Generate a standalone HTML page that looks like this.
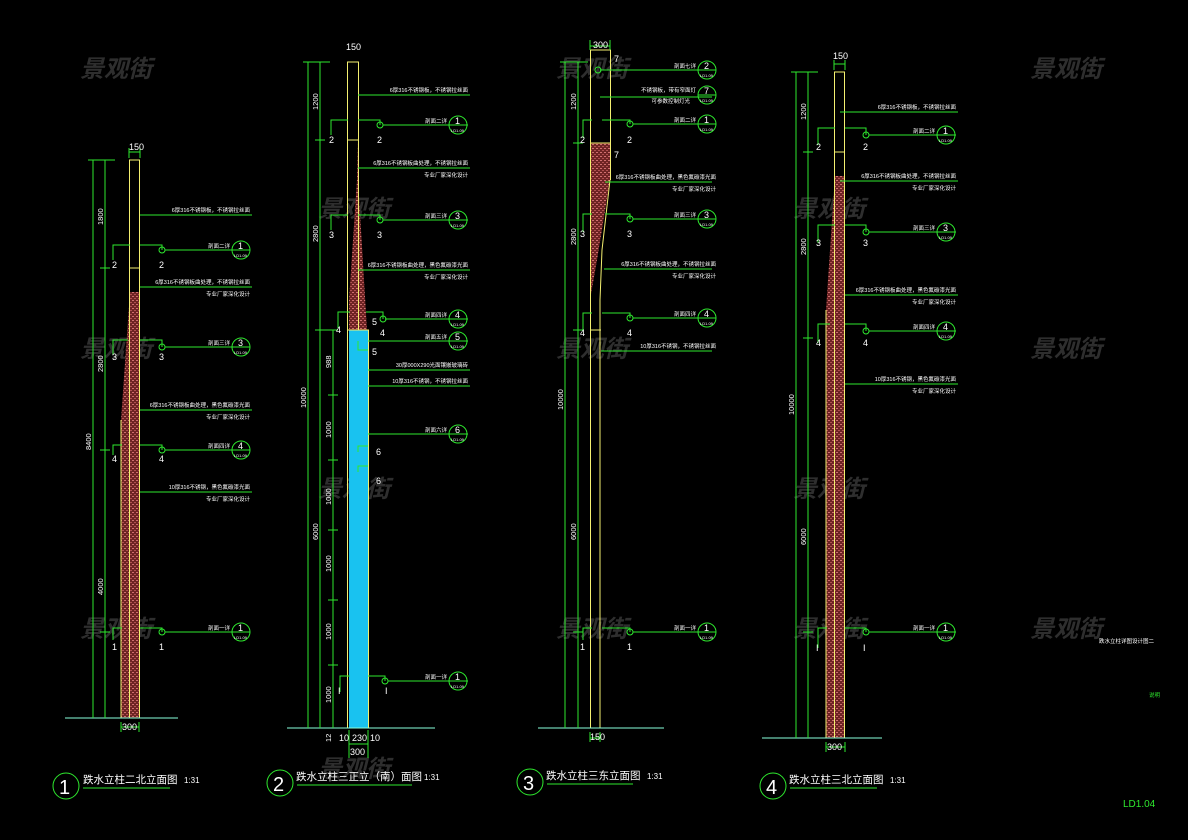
<!DOCTYPE html>
<html><head><meta charset="utf-8"><style>
html,body{margin:0;padding:0;background:#000;}
svg{display:block}
.g{stroke:#2ee82e;fill:none;stroke-width:1}
.y{stroke:#f4f070;fill:none;stroke-width:1}
.t{fill:#fff;font-family:"Liberation Sans","Noto Sans CJK SC",sans-serif;font-size:5.5px}
.n{fill:#fff;font-family:"Liberation Sans",sans-serif;font-size:9px}
.c{fill:#fff;font-family:"Liberation Sans",sans-serif;font-size:12px}
.s{fill:#fff;font-family:"Liberation Sans",sans-serif;font-size:4px}
.w{fill:#555;font-family:"Liberation Sans","Noto Sans CJK SC",sans-serif;font-size:24px;font-style:italic;font-weight:bold;opacity:.55}
.ti{fill:#fff;font-family:"Liberation Sans","Noto Sans CJK SC",sans-serif;font-size:10.5px}
.d{fill:#fff;font-family:"Liberation Sans",sans-serif;font-size:7.5px}
</style></head><body>
<svg width="1188" height="840" viewBox="0 0 1188 840" xmlns="http://www.w3.org/2000/svg">
<defs>
<pattern id="h" width="4" height="4" patternUnits="userSpaceOnUse">
<rect width="4" height="4" fill="#6e2424"/>
<rect x="0" y="0" width="2" height="1" fill="#d07070"/>
<rect x="2" y="2" width="2" height="1" fill="#b05050"/>
</pattern>
<g id="co"><circle r="9" class="g"/><line x1="-9" y1="0" x2="9" y2="0" class="g"/></g>
</defs>
<rect width="1188" height="840" fill="#000"/>

<g class="w">
<text x="80" y="77">景观街</text><text x="318" y="217">景观街</text><text x="556" y="77">景观街</text><text x="1030" y="77">景观街</text>
<text x="80" y="357">景观街</text><text x="556" y="357">景观街</text><text x="793" y="217">景观街</text><text x="1030" y="357">景观街</text>
<text x="318" y="497">景观街</text><text x="793" y="497">景观街</text>
<text x="80" y="637">景观街</text><text x="556" y="637">景观街</text><text x="1030" y="637">景观街</text><text x="318" y="777">景观街</text><text x="793" y="637">景观街</text>
</g>

<!-- COLUMN 1 -->
<polygon points="130,292 139,292 139,718 121,718 121,420" fill="url(#h)"/>
<rect x="129.5" y="160" width="10" height="558" class="y"/>
<line x1="129" y1="268" x2="140" y2="268" class="y"/>
<line x1="121" y1="420" x2="121" y2="718" class="y"/>
<line x1="65" y1="718" x2="178" y2="718" stroke="#8fd" stroke-width="1"/>
<g class="g">
<line x1="93" y1="160" x2="93" y2="718"/><line x1="105" y1="160" x2="105" y2="718"/>
<line x1="88" y1="160" x2="115" y2="160"/>
<line x1="100" y1="268" x2="110" y2="268"/><line x1="100" y1="450" x2="110" y2="450"/><line x1="100" y1="632" x2="110" y2="632"/>
<line x1="129" y1="148" x2="129" y2="158"/><line x1="140" y1="148" x2="140" y2="158"/><line x1="129" y1="152" x2="140" y2="152"/>
<line x1="121" y1="722" x2="121" y2="732"/><line x1="139" y1="722" x2="139" y2="732"/><line x1="121" y1="727" x2="139" y2="727"/>
<line x1="140" y1="215" x2="252" y2="215"/>
<polyline points="113,260 113,245 130,245"/><polyline points="140,245 162,245 162,250"/><line x1="165" y1="250" x2="250" y2="250"/>
<line x1="140" y1="287" x2="252" y2="287"/>
<polyline points="113,355 113,340 128,340"/><polyline points="140,340 162,340 162,347"/><line x1="165" y1="347" x2="250" y2="347"/>
<line x1="140" y1="410" x2="252" y2="410"/>
<polyline points="113,455 113,445 122,445"/><polyline points="140,445 162,445 162,450"/><line x1="165" y1="450" x2="250" y2="450"/>
<line x1="140" y1="492" x2="252" y2="492"/>
<polyline points="113,640 113,628 122,628"/><polyline points="140,628 162,628 162,632"/><line x1="165" y1="632" x2="250" y2="632"/>
<circle cx="162" cy="250" r="3"/><circle cx="162" cy="347" r="3"/><circle cx="162" cy="450" r="3"/><circle cx="162" cy="632" r="3"/>
</g>
<use href="#co" x="241" y="250"/><use href="#co" x="241" y="347"/><use href="#co" x="241" y="450"/><use href="#co" x="241" y="632"/>
<g class="n"><text x="238" y="249">1</text><text x="238" y="346">3</text><text x="238" y="449">4</text><text x="238" y="631">1</text>
<text x="112" y="268">2</text><text x="159" y="268">2</text><text x="112" y="360">3</text><text x="159" y="360">3</text><text x="112" y="462">4</text><text x="159" y="462">4</text><text x="112" y="650">1</text><text x="159" y="650">1</text>
<text x="129" y="150">150</text><text x="122" y="730">300</text></g>
<g class="s"><text x="234" y="257">LD1.09</text><text x="234" y="354">LD1.09</text><text x="234" y="457">LD1.09</text><text x="234" y="639">LD1.09</text></g>
<g class="t" text-anchor="end">
<text x="250" y="212">6厚316不锈钢板，不锈钢拉丝面</text>
<text x="230" y="248">剖面二详</text>
<text x="250" y="284">6厚316不锈钢板曲处理，不锈钢拉丝面</text><text x="250" y="296">专业厂家深化设计</text>
<text x="230" y="345">剖面三详</text>
<text x="250" y="407">6厚316不锈钢板曲处理，黑色氟碳漆光面</text><text x="250" y="419">专业厂家深化设计</text>
<text x="230" y="448">剖面四详</text>
<text x="250" y="489">10厚316不锈钢，黑色氟碳漆光面</text><text x="250" y="501">专业厂家深化设计</text>
<text x="230" y="630">剖面一详</text>
</g>
<g class="d">
<text transform="translate(103,225) rotate(-90)">1800</text>
<text transform="translate(103,372) rotate(-90)">2800</text>
<text transform="translate(91,450) rotate(-90)">8400</text>
<text transform="translate(103,595) rotate(-90)">4000</text>
</g>

<!-- COLUMN 2 -->
<polygon points="357,140 358,180 367,330 349,330 349,300 357,180" fill="url(#h)"/>
<rect x="349" y="330" width="19" height="398" fill="#19c2f0"/>
<line x1="347.5" y1="62" x2="347.5" y2="728" class="y"/>
<line x1="358.5" y1="62" x2="358.5" y2="330" class="y"/>
<line x1="347" y1="62" x2="359" y2="62" class="y"/>
<line x1="347" y1="140" x2="359" y2="140" class="y"/>
<line x1="368.5" y1="330" x2="368.5" y2="728" class="y"/>
<line x1="347" y1="330" x2="369" y2="330" class="y"/>
<line x1="287" y1="728" x2="435" y2="728" stroke="#8fd"/>
<g class="g">
<line x1="308" y1="62" x2="308" y2="728"/><line x1="320" y1="62" x2="320" y2="728"/><line x1="333" y1="330" x2="333" y2="728"/>
<line x1="303" y1="62" x2="330" y2="62"/><line x1="315" y1="140" x2="325" y2="140"/><line x1="315" y1="330" x2="338" y2="330"/>
<line x1="328" y1="395" x2="338" y2="395"/><line x1="328" y1="460" x2="338" y2="460"/><line x1="328" y1="530" x2="338" y2="530"/><line x1="328" y1="600" x2="338" y2="600"/><line x1="328" y1="665" x2="338" y2="665"/>
<line x1="358" y1="95" x2="470" y2="95"/>
<polyline points="331,135 331,120 348,120"/><polyline points="358,120 380,120 380,125"/><line x1="383" y1="125" x2="468" y2="125"/>
<line x1="358" y1="168" x2="470" y2="168"/>
<polyline points="331,230 331,215 348,215"/><polyline points="358,215 380,215 380,220"/><line x1="383" y1="220" x2="468" y2="220"/>
<line x1="358" y1="270" x2="470" y2="270"/>
<polyline points="338,328 338,312 350,312"/><polyline points="366,312 383,312 383,319"/><line x1="385" y1="319" x2="468" y2="319"/>
<line x1="368" y1="341" x2="468" y2="341"/><polyline points="358,341 358,350 368,350"/>
<line x1="368" y1="370" x2="470" y2="370"/>
<line x1="368" y1="386" x2="470" y2="386"/>
<line x1="368" y1="434" x2="468" y2="434"/>
<polyline points="358,452 358,446 368,446"/><polyline points="358,472 358,466 368,466"/>
<polyline points="340,692 340,676 350,676"/><polyline points="368,676 385,676 385,681"/><line x1="388" y1="681" x2="468" y2="681"/>
<line x1="349" y1="730" x2="349" y2="758"/><line x1="368" y1="730" x2="368" y2="758"/><line x1="349" y1="744" x2="368" y2="744"/>
<circle cx="380" cy="125" r="3"/><circle cx="380" cy="220" r="3"/><circle cx="383" cy="319" r="3"/><circle cx="385" cy="681" r="3"/>
</g>
<use href="#co" x="458" y="125"/><use href="#co" x="458" y="220"/><use href="#co" x="458" y="319"/><use href="#co" x="458" y="341"/><use href="#co" x="458" y="434"/><use href="#co" x="458" y="681"/>
<g class="n"><text x="455" y="124">1</text><text x="455" y="219">3</text><text x="455" y="318">4</text><text x="455" y="340">5</text><text x="455" y="433">6</text><text x="455" y="680">1</text>
<text x="329" y="143">2</text><text x="377" y="143">2</text><text x="329" y="238">3</text><text x="377" y="238">3</text>
<text x="336" y="333">4</text><text x="372" y="325">5</text><text x="380" y="336">4</text><text x="372" y="355">5</text>
<text x="376" y="455">6</text><text x="376" y="484">6</text><text x="338" y="694">I</text><text x="385" y="694">I</text>
<text x="346" y="50">150</text><text x="339" y="741">10</text><text x="352" y="741">230</text><text x="370" y="741">10</text><text x="350" y="755">300</text></g>
<g class="s"><text x="451" y="132">LD1.09</text><text x="451" y="227">LD1.09</text><text x="451" y="326">LD1.09</text><text x="451" y="348">LD1.09</text><text x="451" y="441">LD1.09</text><text x="451" y="688">LD1.09</text></g>
<g class="t" text-anchor="end">
<text x="468" y="92">6厚316不锈钢板，不锈钢拉丝面</text>
<text x="447" y="123">剖面二详</text>
<text x="468" y="165">6厚316不锈钢板曲处理，不锈钢拉丝面</text><text x="468" y="177">专业厂家深化设计</text>
<text x="447" y="218">剖面三详</text>
<text x="468" y="267">6厚316不锈钢板曲处理，黑色氟碳漆光面</text><text x="468" y="279">专业厂家深化设计</text>
<text x="447" y="317">剖面四详</text><text x="447" y="339">剖面五详</text>
<text x="468" y="367">30厚000X290光面镶嵌玻璃砖</text>
<text x="468" y="383">10厚316不锈钢，不锈钢拉丝面</text>
<text x="447" y="432">剖面六详</text>
<text x="447" y="679">剖面一详</text>
</g>
<g class="d">
<text transform="translate(318,110) rotate(-90)">1200</text>
<text transform="translate(318,242) rotate(-90)">2800</text>
<text transform="translate(306,408) rotate(-90)">10000</text>
<text transform="translate(318,540) rotate(-90)">6000</text>
<text transform="translate(331,368) rotate(-90)">988</text>
<text transform="translate(331,438) rotate(-90)">1000</text>
<text transform="translate(331,505) rotate(-90)">1000</text>
<text transform="translate(331,572) rotate(-90)">1000</text>
<text transform="translate(331,640) rotate(-90)">1000</text>
<text transform="translate(331,703) rotate(-90)">1000</text>
<text transform="translate(331,742) rotate(-90)">12</text>
</g>

<!-- COLUMN 3 -->
<polygon points="590,143 610,143 610,180 597,260 590,300" fill="url(#h)"/>
<line x1="590.5" y1="50" x2="590.5" y2="728" class="y"/>
<line x1="610.5" y1="50" x2="610.5" y2="180" class="y"/>
<polyline points="610,180 602,250 600,300 600,728" class="y"/>
<line x1="590" y1="50" x2="611" y2="50" class="y"/>
<line x1="590" y1="143" x2="611" y2="143" class="y"/>
<line x1="590" y1="330" x2="601" y2="330" class="y"/>
<line x1="538" y1="728" x2="664" y2="728" stroke="#8fd"/>
<g class="g">
<line x1="565" y1="62" x2="565" y2="728"/><line x1="578" y1="62" x2="578" y2="728"/>
<line x1="560" y1="62" x2="588" y2="62"/><line x1="573" y1="143" x2="583" y2="143"/><line x1="573" y1="330" x2="583" y2="330"/><line x1="573" y1="632" x2="583" y2="632"/>
<line x1="590" y1="46" x2="610" y2="46"/><line x1="590" y1="40" x2="590" y2="50"/><line x1="610" y1="40" x2="610" y2="50"/>
<line x1="600" y1="70" x2="712" y2="70"/><circle cx="598" cy="70" r="3"/>
<line x1="600" y1="97" x2="712" y2="97"/>
<polyline points="583,138 583,120 592,120"/><polyline points="602,120 630,120 630,124"/><line x1="633" y1="124" x2="710" y2="124"/>
<line x1="605" y1="182" x2="712" y2="182"/>
<polyline points="583,232 583,214 592,214"/><polyline points="605,214 630,214 630,219"/><line x1="633" y1="219" x2="710" y2="219"/>
<line x1="604" y1="269" x2="712" y2="269"/>
<polyline points="583,330 583,313 592,313"/><polyline points="602,313 630,313 630,318"/><line x1="633" y1="318" x2="710" y2="318"/>
<line x1="601" y1="351" x2="712" y2="351"/>
<polyline points="583,640 583,628 592,628"/><polyline points="602,628 630,628 630,632"/><line x1="633" y1="632" x2="710" y2="632"/>
<line x1="590" y1="732" x2="590" y2="742"/><line x1="600" y1="732" x2="600" y2="742"/><line x1="590" y1="738" x2="600" y2="738"/>
<circle cx="630" cy="124" r="3"/><circle cx="630" cy="219" r="3"/><circle cx="630" cy="318" r="3"/><circle cx="630" cy="632" r="3"/>
</g>
<use href="#co" x="707" y="70"/><use href="#co" x="707" y="95"/><use href="#co" x="707" y="124"/><use href="#co" x="707" y="219"/><use href="#co" x="707" y="318"/><use href="#co" x="707" y="632"/>
<g class="n"><text x="704" y="69">2</text><text x="704" y="94">7</text><text x="704" y="123">1</text><text x="704" y="218">3</text><text x="704" y="317">4</text><text x="704" y="631">1</text>
<text x="614" y="62">7</text><text x="614" y="158">7</text>
<text x="580" y="143">2</text><text x="627" y="143">2</text><text x="580" y="237">3</text><text x="627" y="237">3</text><text x="580" y="336">4</text><text x="627" y="336">4</text><text x="580" y="650">1</text><text x="627" y="650">1</text>
<text x="593" y="48">300</text><text x="590" y="740">150</text></g>
<g class="s"><text x="700" y="77">LD1.09</text><text x="700" y="102">LD1.09</text><text x="700" y="131">LD1.09</text><text x="700" y="226">LD1.09</text><text x="700" y="325">LD1.09</text><text x="700" y="639">LD1.09</text></g>
<g class="t" text-anchor="end">
<text x="696" y="68">剖面七详</text>
<text x="696" y="92">不锈钢板，带有窄面灯</text><text x="690" y="103">可参数控制灯光</text>
<text x="696" y="122">剖面二详</text>
<text x="716" y="179">6厚316不锈钢板曲处理，黑色氟碳漆光面</text><text x="716" y="191">专业厂家深化设计</text>
<text x="696" y="217">剖面三详</text>
<text x="716" y="266">6厚316不锈钢板曲处理，不锈钢拉丝面</text><text x="716" y="278">专业厂家深化设计</text>
<text x="696" y="316">剖面四详</text>
<text x="716" y="348">10厚316不锈钢，不锈钢拉丝面</text>
<text x="696" y="630">剖面一详</text>
</g>
<g class="d">
<text transform="translate(576,110) rotate(-90)">1200</text>
<text transform="translate(576,245) rotate(-90)">2800</text>
<text transform="translate(563,410) rotate(-90)">10000</text>
<text transform="translate(576,540) rotate(-90)">6000</text>
</g>

<!-- COLUMN 4 -->
<polygon points="835,176 845,176 845,738 826,738 826,310" fill="url(#h)"/>
<rect x="834.5" y="72" width="10" height="666" class="y"/>
<line x1="834" y1="152" x2="845" y2="152" class="y"/>
<line x1="826" y1="310" x2="826" y2="738" class="y"/>
<line x1="762" y1="738" x2="882" y2="738" stroke="#8fd"/>
<g class="g">
<line x1="796" y1="72" x2="796" y2="738"/><line x1="808" y1="72" x2="808" y2="738"/>
<line x1="791" y1="72" x2="818" y2="72"/><line x1="803" y1="152" x2="813" y2="152"/><line x1="803" y1="338" x2="813" y2="338"/><line x1="803" y1="632" x2="813" y2="632"/>
<line x1="834" y1="60" x2="834" y2="70"/><line x1="845" y1="60" x2="845" y2="70"/><line x1="834" y1="64" x2="845" y2="64"/>
<line x1="826" y1="742" x2="826" y2="752"/><line x1="845" y1="742" x2="845" y2="752"/><line x1="826" y1="747" x2="845" y2="747"/>
<line x1="840" y1="112" x2="958" y2="112"/>
<polyline points="818,145 818,128 835,128"/><polyline points="845,128 866,128 866,135"/><line x1="869" y1="135" x2="956" y2="135"/>
<line x1="840" y1="181" x2="958" y2="181"/>
<polyline points="818,243 818,225 835,225"/><polyline points="845,225 866,225 866,232"/><line x1="869" y1="232" x2="956" y2="232"/>
<line x1="845" y1="295" x2="958" y2="295"/>
<polyline points="818,343 818,324 830,324"/><polyline points="845,324 866,324 866,331"/><line x1="869" y1="331" x2="956" y2="331"/>
<line x1="845" y1="384" x2="958" y2="384"/>
<polyline points="818,648 818,628 827,628"/><polyline points="845,628 866,628 866,632"/><line x1="869" y1="632" x2="956" y2="632"/>
<circle cx="866" cy="135" r="3"/><circle cx="866" cy="232" r="3"/><circle cx="866" cy="331" r="3"/><circle cx="866" cy="632" r="3"/>
</g>
<use href="#co" x="946" y="135"/><use href="#co" x="946" y="232"/><use href="#co" x="946" y="331"/><use href="#co" x="946" y="632"/>
<g class="n"><text x="943" y="134">1</text><text x="943" y="231">3</text><text x="943" y="330">4</text><text x="943" y="631">1</text>
<text x="816" y="150">2</text><text x="863" y="150">2</text><text x="816" y="246">3</text><text x="863" y="246">3</text><text x="816" y="346">4</text><text x="863" y="346">4</text><text x="816" y="651">I</text><text x="863" y="651">I</text>
<text x="833" y="59">150</text><text x="827" y="750">300</text></g>
<g class="s"><text x="939" y="142">LD1.09</text><text x="939" y="239">LD1.09</text><text x="939" y="338">LD1.09</text><text x="939" y="639">LD1.09</text></g>
<g class="t" text-anchor="end">
<text x="956" y="109">6厚316不锈钢板，不锈钢拉丝面</text>
<text x="935" y="133">剖面二详</text>
<text x="956" y="178">6厚316不锈钢板曲处理，不锈钢拉丝面</text><text x="956" y="190">专业厂家深化设计</text>
<text x="935" y="230">剖面三详</text>
<text x="956" y="292">6厚316不锈钢板曲处理，黑色氟碳漆光面</text><text x="956" y="304">专业厂家深化设计</text>
<text x="935" y="329">剖面四详</text>
<text x="956" y="381">10厚316不锈钢，黑色氟碳漆光面</text><text x="956" y="393">专业厂家深化设计</text>
<text x="935" y="630">剖面一详</text>
</g>
<g class="d">
<text transform="translate(806,120) rotate(-90)">1200</text>
<text transform="translate(806,255) rotate(-90)">2800</text>
<text transform="translate(794,415) rotate(-90)">10000</text>
<text transform="translate(806,545) rotate(-90)">6000</text>
</g>

<!-- titles -->
<g class="g" stroke-width="1.2">
<circle cx="66" cy="786" r="13"/><line x1="83" y1="788" x2="170" y2="788"/>
<circle cx="280" cy="783" r="13"/><line x1="297" y1="785" x2="412" y2="785"/>
<circle cx="530" cy="782" r="13"/><line x1="547" y1="784" x2="633" y2="784"/>
<circle cx="773" cy="786" r="13"/><line x1="790" y1="788" x2="877" y2="788"/>
</g>
<g class="c" style="font-size:20px"><text x="59" y="794">1</text><text x="273" y="791">2</text><text x="523" y="790">3</text><text x="766" y="794">4</text></g>
<g class="ti">
<text x="83" y="783">跌水立柱二北立面图</text><text x="184" y="783" style="font-size:8px">1:31</text>
<text x="296" y="780">跌水立柱三正立（南）面图</text><text x="424" y="780" style="font-size:8px">1:31</text>
<text x="546" y="779">跌水立柱三东立面图</text><text x="647" y="779" style="font-size:8px">1:31</text>
<text x="789" y="783">跌水立柱三北立面图</text><text x="890" y="783" style="font-size:8px">1:31</text>
</g>

<text x="1099" y="643" class="t">跌水立柱详图设计图二</text>
<text x="1149" y="697" class="t" style="fill:#2ee82e">说明</text>
<text x="1123" y="807" style="fill:#2ee82e;font-family:'Liberation Sans',sans-serif;font-size:10px">LD1.04</text>
</svg>
</body></html>
